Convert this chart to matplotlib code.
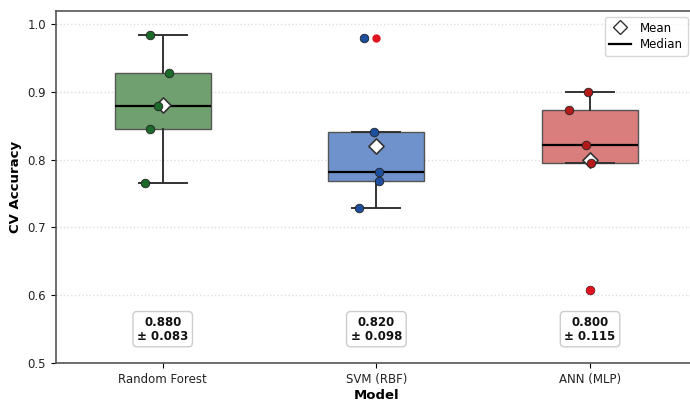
import numpy as np
import matplotlib
matplotlib.use("Agg")
from matplotlib import pyplot as plt
from matplotlib.lines import Line2D

# CV fold accuracies
models = ["Random Forest", "SVM (RBF)", "ANN (MLP)"]
rf_scores = [0.983, 0.928, 0.879, 0.845, 0.765]
svm_scores = [0.979, 0.841, 0.782, 0.769, 0.729]
ann_scores = [0.900, 0.873, 0.822, 0.795, 0.608]
# horizontal jitter of the strip points
rf_jitter = [-0.06, 0.03, -0.02, -0.06, -0.085]
svm_jitter = [-0.06, -0.01, 0.01, 0.01, -0.08]
ann_jitter = [-0.01, -0.10, -0.02, 0.005, 0.0]

box_colors = ["#70a070", "#7092cc", "#d97d7d"]
dot_colors = ["#1b6a2a", "#1d4f9e", "#b51a1a"]

scores = [rf_scores, svm_scores, ann_scores]
jitters = [rf_jitter, svm_jitter, ann_jitter]

fig = plt.figure(figsize=(6.9, 4.03), dpi=100)
ax = fig.add_axes([0.081, 0.099, 0.929, 0.874])

pos = np.arange(len(models))
bp = ax.boxplot(scores, positions=pos, widths=0.45, patch_artist=True,
                showmeans=False, whis=1.5,
                medianprops=dict(color="black", linewidth=1.6),
                whiskerprops=dict(color="#333333", linewidth=1.4),
                capprops=dict(color="#333333", linewidth=1.4),
                flierprops=dict(marker="o", markerfacecolor="#e0141e",
                                markeredgecolor="none", markersize=6),
                zorder=2)
for patch, c in zip(bp["boxes"], box_colors):
    patch.set_facecolor(c)
    patch.set_edgecolor("#555555")
    patch.set_linewidth(1.0)
for fl in bp["fliers"]:
    fl.set_zorder(6)

# Means (drawn under the strip points)
means = [np.mean(s) for s in scores]
stds = [np.std(s, ddof=1) for s in scores]
ax.scatter(pos, means, marker="D", s=60, color="white", edgecolor="#333333",
           linewidth=1.2, zorder=4)

# Strip points
for i, (s, j) in enumerate(zip(scores, jitters)):
    ax.scatter(pos[i] + np.array(j), s, s=38, color=dot_colors[i],
               edgecolor="#222222", linewidth=0.6, zorder=5)

# mean +- std labels
for i in range(len(models)):
    ax.text(pos[i], 0.55, f"{means[i]:.3f}\n± {stds[i]:.3f}", ha="center",
            va="center", fontsize=8.5, fontweight="bold", color="#111111",
            linespacing=1.1,
            bbox=dict(boxstyle="round,pad=0.35", facecolor="white",
                      edgecolor="#cccccc", linewidth=1.0))

ax.set_xlim(-0.5, 2.5)
ax.set_ylim(0.5, 1.019)
ax.set_xticks(pos)
ax.set_xticklabels(models, fontsize=8.5, color="#222222")
ax.set_yticks([0.5, 0.6, 0.7, 0.8, 0.9, 1.0])
ax.tick_params(axis="y", labelsize=8.5, labelcolor="#222222")
ax.set_xlabel("Model", fontsize=9.5, fontweight="bold", labelpad=2)
ax.set_ylabel("CV Accuracy", fontsize=9.5, fontweight="bold")
ax.yaxis.grid(True, linestyle=":", color="#dddddd", linewidth=1.0)
ax.set_axisbelow(True)
for sp in ax.spines.values():
    sp.set_color("#555555")
    sp.set_linewidth(1.2)

handles = [Line2D([], [], marker="D", linestyle="none", markerfacecolor="white",
                  markeredgecolor="#333333", markersize=7, label="Mean"),
           Line2D([], [], color="black", linewidth=1.6, label="Median")]
ax.legend(handles=handles, loc="upper right", fontsize=8.5, frameon=True,
          bbox_to_anchor=(0.995, 1.0), handlelength=1.8, borderpad=0.4,
          labelspacing=0.3)

fig.savefig("out.png", dpi=100)
